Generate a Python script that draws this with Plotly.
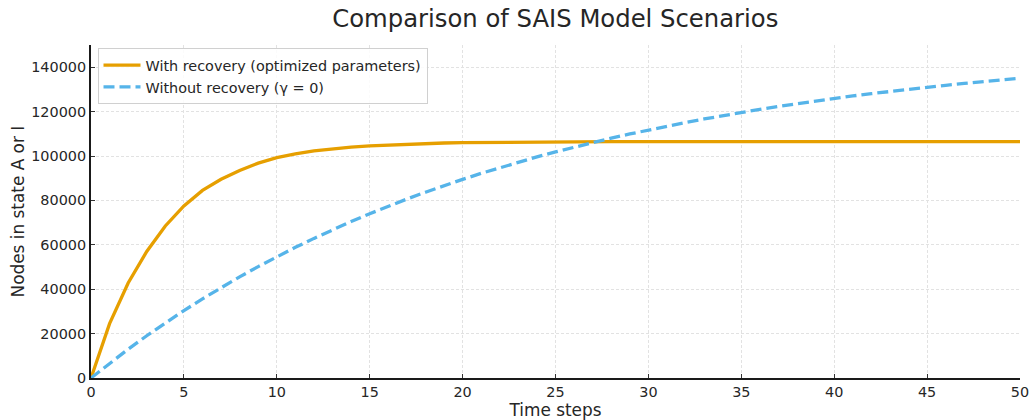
import plotly.graph_objects as go

# Time steps and simulated counts of nodes in state A or I
time_steps = list(range(0, 51))

with_recovery = [
    0, 24500, 42800, 57000, 68500, 77500, 84500, 89500, 93500, 96800,
    99300, 101000, 102300, 103300, 104000, 104600, 105000, 105400, 105650, 105850,
    106000, 106100, 106200, 106270, 106320, 106360, 106400, 106420, 106440, 106450,
    106460, 106470, 106480, 106480, 106490, 106490, 106490, 106500, 106500, 106500,
    106500, 106500, 106500, 106500, 106500, 106500, 106500, 106500, 106500, 106500,
    106500,
]

without_recovery = [
    0, 6630, 12970, 19030, 24820, 30360, 35650, 40720, 45560, 50190,
    54620, 58850, 62890, 66760, 70460, 73990, 77370, 80600, 83700, 86660,
    89480, 92180, 94770, 97230, 99590, 101850, 104010, 106070, 108040, 109930,
    111740, 113460, 115110, 116680, 118190, 119620, 120990, 122320, 123580, 124790,
    125940, 127040, 128090, 129090, 130050, 130970, 131850, 132700, 133500, 134270,
    135010,
]

series_names = ["With recovery (optimized parameters)", "Without recovery (γ = 0)"]
x_ticks = list(range(0, 51, 5))
y_ticks = list(range(0, 140001, 20000))

FONT = "DejaVu Sans"
TEXT = "#262626"

fig = go.Figure()
fig.add_trace(go.Scatter(
    x=time_steps, y=with_recovery, mode="lines", name=series_names[0],
    line=dict(color="#E69F00", width=3.3),
))
fig.add_trace(go.Scatter(
    x=time_steps, y=without_recovery, mode="lines", name=series_names[1],
    line=dict(color="#56B4E9", width=3.3, dash="11px,5px"),
))

axis_common = dict(
    automargin=False,
    showgrid=True, gridcolor="#e2e2e2", griddash="3px,2px", gridwidth=1,
    showline=True, linecolor="#1a1a1a", linewidth=2,
    ticks="inside", ticklen=4, tickcolor="#333333", tickwidth=1,
    tickfont=dict(family=FONT, size=14.4, color=TEXT),
    zeroline=False, mirror=False,
)

fig.update_layout(
    width=1031, height=420,
    margin=dict(l=91, r=11, t=45, b=42),
    paper_bgcolor="white", plot_bgcolor="white",
    title=dict(text="Comparison of SAIS Model Scenarios", x=0.5386, xanchor="center",
               y=0.957, yanchor="middle",
               font=dict(family=FONT, size=24.3, color=TEXT)),
    xaxis=dict(range=[0, 50], tickvals=x_ticks,
               title=dict(text="Time steps", standoff=4,
                          font=dict(family=FONT, size=16.9, color=TEXT)),
               **axis_common),
    yaxis=dict(range=[0, 150000], tickvals=y_ticks, tickformat="d", **axis_common),
    legend=dict(x=0.007, y=0.99, xanchor="left", yanchor="top",
                bgcolor="rgba(255,255,255,0.85)", bordercolor="#d0d0d0", borderwidth=1,
                font=dict(family=FONT, size=14.4, color=TEXT),
                tracegroupgap=2, itemwidth=37),
    showlegend=True,
)

# Vertical axis title placed beside the tick labels
fig.add_annotation(
    text="Nodes in state A or I", xref="paper", yref="paper",
    x=-0.0786, y=0.5, xanchor="center", yanchor="middle", textangle=-90,
    showarrow=False, font=dict(family=FONT, size=16.9, color=TEXT),
)

fig.write_html("out.html")
